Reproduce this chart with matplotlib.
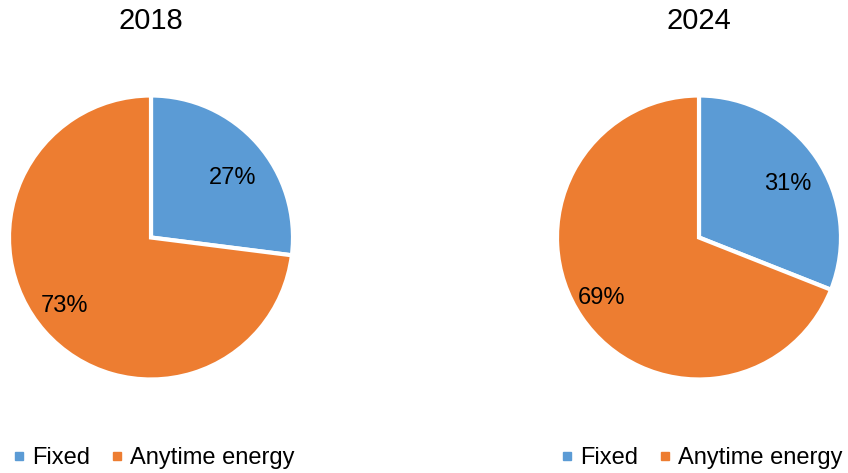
import matplotlib
matplotlib.use("Agg")
import matplotlib.pyplot as plt
from matplotlib.lines import Line2D

plt.rcParams["font.family"] = ["Liberation Sans", "DejaVu Sans"]

# ── Data ──────────────────────────────────────────────────────────────────
years = ["2018", "2024"]
categories = ["Fixed", "Anytime energy"]
shares_2018 = [27, 73]
shares_2024 = [31, 69]
colors = ["#5B9BD5", "#ED7D31"]

W, H = 848, 473
fig = plt.figure(figsize=(W / 100, H / 100), dpi=100)

# pie centres / radius in pixels (image coords, y down)
centres = [(151, 237.5), (699, 237.5)]
radius = 142
legend_x = [12, 560]
# label anchor points in radius units (Excel "best fit" placement)
label_pos = [[(0.577, 0.42), (-0.606, -0.48)],
             [(0.627, 0.378), (-0.69, -0.425)]]


def draw_pie(cx, cy, values, title, lx, lpos):
    ax = fig.add_axes([(cx - radius) / W, (H - cy - radius) / H,
                       2 * radius / W, 2 * radius / H])
    _, _, autotexts = ax.pie(values, colors=colors, startangle=90,
                             counterclock=False, autopct="%d%%",
                             wedgeprops=dict(edgecolor="white", linewidth=3),
                             textprops=dict(fontsize=17, color="black"))
    for t, p in zip(autotexts, lpos):
        t.set_position(p)
    ax.set_xlim(-1, 1)
    ax.set_ylim(-1, 1)
    ax.set_aspect("equal")
    fig.text(cx / W, 1 - 21 / H, title, ha="center", va="center", fontsize=21)

    handles = [Line2D([], [], marker="s", linestyle="none", markersize=6,
                      markerfacecolor=c, markeredgecolor=c) for c in colors]
    fig.legend(handles, categories, loc="center left",
               bbox_to_anchor=(lx / W, 1 - 458 / H), ncol=2, frameon=False,
               fontsize=17, handlelength=0.6, handletextpad=0.25,
               columnspacing=0.85, borderaxespad=0, borderpad=0)


for (cx, cy), vals, yr, lx, lp in zip(centres, [shares_2018, shares_2024],
                                      years, legend_x, label_pos):
    draw_pie(cx, cy, vals, yr, lx, lp)

fig.savefig("out.png", dpi=100)
